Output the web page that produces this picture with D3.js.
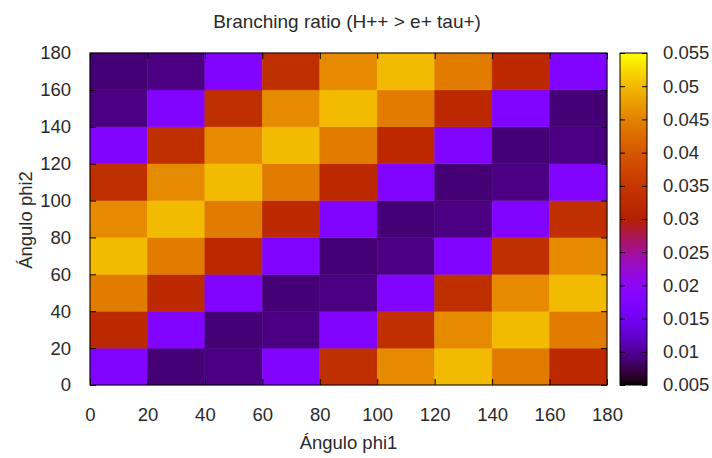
<!DOCTYPE html>
<html>
<head>
<meta charset="utf-8">
<script src="https://cdn.jsdelivr.net/npm/d3@7"></script>
<style>
  html, body { margin: 0; padding: 0; background: #fff; }
  svg { display: block; }
  text { font-family: "Liberation Sans", Arial, sans-serif; fill: #2a2a2a; }
</style>
</head>
<body>
<svg id="chart" width="712" height="458"></svg>
<script>
// Bin edges along phi1 (columns) and phi2 (rows), degrees
const phi1Bins = [0, 20, 40, 60, 80, 100, 120, 140, 160];
const phi2Bins = [0, 20, 40, 60, 80, 100, 120, 140, 160];

// Branching ratio per cell; one row per phi2 bin (bottom to top), one value per phi1 bin
const ratioRows = [
  [0.0175, 0.0088, 0.0092, 0.0180, 0.0334, 0.0457, 0.0500, 0.0443, 0.0322],
  [0.0322, 0.0175, 0.0088, 0.0092, 0.0180, 0.0334, 0.0457, 0.0500, 0.0443],
  [0.0443, 0.0322, 0.0175, 0.0088, 0.0092, 0.0180, 0.0334, 0.0457, 0.0500],
  [0.0500, 0.0443, 0.0322, 0.0175, 0.0088, 0.0092, 0.0180, 0.0334, 0.0457],
  [0.0457, 0.0500, 0.0443, 0.0322, 0.0175, 0.0088, 0.0092, 0.0180, 0.0334],
  [0.0334, 0.0457, 0.0500, 0.0443, 0.0322, 0.0175, 0.0088, 0.0092, 0.0180],
  [0.0180, 0.0334, 0.0457, 0.0500, 0.0443, 0.0322, 0.0175, 0.0088, 0.0092],
  [0.0092, 0.0180, 0.0334, 0.0457, 0.0500, 0.0443, 0.0322, 0.0175, 0.0088],
  [0.0088, 0.0092, 0.0180, 0.0334, 0.0457, 0.0500, 0.0443, 0.0322, 0.0175]
];

const axisTicks = [0, 20, 40, 60, 80, 100, 120, 140, 160, 180];
const cbTicks = [0.005, 0.01, 0.015, 0.02, 0.025, 0.03, 0.035, 0.04, 0.045, 0.05, 0.055];
const cbLabels = ["0.005", "0.01", "0.015", "0.02", "0.025", "0.03", "0.035", "0.04", "0.045", "0.05", "0.055"];

const binWidth = 20;
const ratioDomain = [0.005, 0.055];

const titleText = "Branching ratio (H++ > e+ tau+)";
const xLabel = "Ángulo phi1";
const yLabel = "Ángulo phi2";

// Layout
const plot = { left: 90, right: 607, top: 53, bottom: 385 };
const cbar = { left: 620, right: 647 };
const fontSize = "18.5px";

const svg = d3.select("#chart");

// Black → blue → violet → red → yellow palette (sqrt, cube, sine channels)
function palette(t) {
  t = Math.max(0, Math.min(1, t));
  const r = Math.sqrt(t);
  const g = t * t * t;
  const b = Math.max(0, Math.sin(2 * Math.PI * t));
  return d3.rgb(Math.round(r * 255), Math.round(g * 255), Math.round(b * 255)).toString();
}

const color = d3.scaleSequential(palette).domain(ratioDomain);

const x = d3.scaleLinear().domain([0, 180]).range([plot.left, plot.right]);
const y = d3.scaleLinear().domain([0, 180]).range([plot.bottom, plot.top]);

// Heatmap cells
const cells = [];
ratioRows.forEach((row, j) => {
  row.forEach((v, i) => cells.push({ x0: phi1Bins[i], y0: phi2Bins[j], v }));
});

svg.append("g")
  .selectAll("rect")
  .data(cells)
  .join("rect")
  .attr("x", d => x(d.x0))
  .attr("y", d => y(d.y0 + binWidth))
  .attr("width", d => x(d.x0 + binWidth) - x(d.x0))
  .attr("height", d => y(d.y0) - y(d.y0 + binWidth))
  .attr("fill", d => color(d.v))
  .attr("stroke", d => color(d.v))
  .attr("stroke-width", 0.5);

// Axes with inward ticks, mirrored on the opposite sides
const tickLen = 6;
function styleAxis(g) {
  g.select(".domain").remove();
  g.selectAll(".tick line").attr("stroke", "#000").attr("stroke-width", 1);
  g.selectAll(".tick text")
    .style("font-family", '"Liberation Sans", Arial, sans-serif')
    .style("font-size", fontSize)
    .attr("fill", "#2a2a2a");
}

svg.append("g")
  .attr("transform", `translate(0,${plot.bottom})`)
  .call(d3.axisBottom(x).tickValues(axisTicks).tickSize(-tickLen).tickPadding(23))
  .call(styleAxis);

svg.append("g")
  .attr("transform", `translate(0,${plot.top})`)
  .call(d3.axisTop(x).tickValues(axisTicks).tickSize(-tickLen).tickFormat(""))
  .call(styleAxis);

svg.append("g")
  .attr("transform", `translate(${plot.left},0)`)
  .call(d3.axisLeft(y).tickValues(axisTicks).tickSize(-tickLen).tickPadding(19))
  .call(styleAxis);

svg.append("g")
  .attr("transform", `translate(${plot.right},0)`)
  .call(d3.axisRight(y).tickValues(axisTicks).tickSize(-tickLen).tickFormat(""))
  .call(styleAxis);

// Plot border
svg.append("rect")
  .attr("x", plot.left).attr("y", plot.top)
  .attr("width", plot.right - plot.left).attr("height", plot.bottom - plot.top)
  .attr("fill", "none").attr("stroke", "#000").attr("stroke-width", 1);

// Colour bar
const cbY = d3.scaleLinear().domain(ratioDomain).range([plot.bottom, plot.top]);
const defs = svg.append("defs");
const grad = defs.append("linearGradient")
  .attr("id", "cbgrad")
  .attr("x1", 0).attr("y1", 1).attr("x2", 0).attr("y2", 0);
const nStops = 64;
grad.selectAll("stop")
  .data(d3.range(nStops + 1).map(k => k / nStops))
  .join("stop")
  .attr("offset", d => d)
  .attr("stop-color", d => palette(d));

svg.append("rect")
  .attr("x", cbar.left).attr("y", cbY(ratioDomain[1]))
  .attr("width", cbar.right - cbar.left)
  .attr("height", cbY(ratioDomain[0]) - cbY(ratioDomain[1]))
  .attr("fill", "url(#cbgrad)")
  .attr("stroke", "#000").attr("stroke-width", 1);

const cbTickLen = 5;
svg.append("g")
  .attr("transform", `translate(${cbar.right},0)`)
  .call(d3.axisRight(cbY).tickValues(cbTicks).tickSize(-cbTickLen)
    .tickFormat((d, i) => cbLabels[i]).tickPadding(16))
  .call(styleAxis);

svg.append("g")
  .attr("transform", `translate(${cbar.left},0)`)
  .call(d3.axisLeft(cbY).tickValues(cbTicks).tickSize(-cbTickLen).tickFormat(""))
  .call(styleAxis);

// Titles
svg.append("text")
  .attr("x", 347).attr("y", 27.5)
  .attr("text-anchor", "middle")
  .style("font-size", "19px")
  .text(titleText);

svg.append("text")
  .attr("x", (plot.left + plot.right) / 2).attr("y", 449)
  .attr("text-anchor", "middle")
  .style("font-size", fontSize)
  .text(xLabel);

svg.append("text")
  .attr("transform", `translate(32,220) rotate(-90)`)
  .attr("text-anchor", "middle")
  .style("font-size", fontSize)
  .text(yLabel);
</script>
</body>
</html>
